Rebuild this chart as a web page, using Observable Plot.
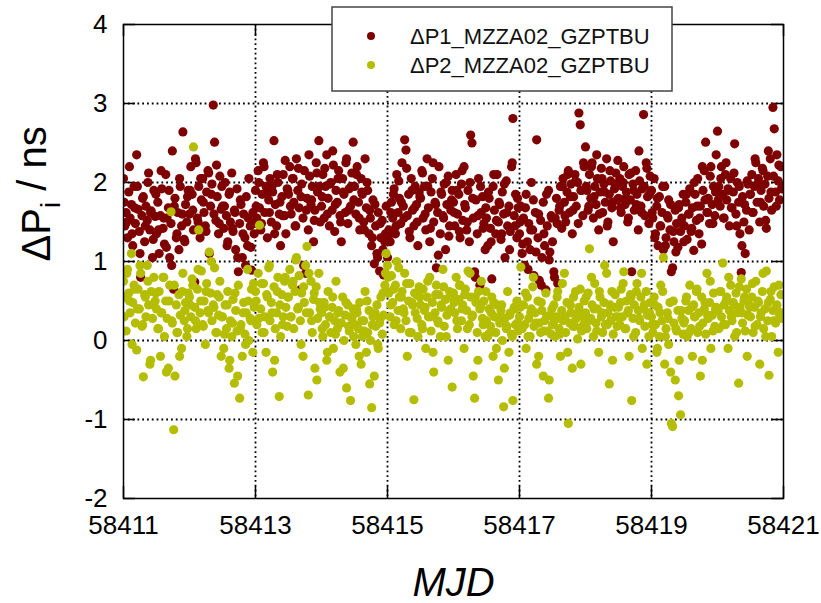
<!DOCTYPE html>
<html><head><meta charset="utf-8">
<script src="https://cdn.jsdelivr.net/npm/d3@7"></script>
<script src="https://cdn.jsdelivr.net/npm/@observablehq/plot@0.6"></script>
<style>body{margin:0;background:#fff}#chart{width:821px;height:603px}</style>
</head><body><div id="chart"></div>
<script>
const mjd = [
58411.00,58411.02,58411.04,58411.06,58411.08,58411.10,58411.12,58411.14,58411.16,58411.18,58411.20,58411.22,58411.24,58411.26,58411.28,58411.30,58411.32,58411.34,58411.36,58411.38,58411.40,58411.42,58411.44,58411.46,58411.48,
58411.50,58411.52,58411.54,58411.56,58411.58,58411.60,58411.62,58411.64,58411.66,58411.68,58411.70,58411.72,58411.74,58411.76,58411.78,58411.80,58411.82,58411.84,58411.86,58411.88,58411.90,58411.92,58411.94,58411.96,58411.98,
58412.00,58412.02,58412.04,58412.06,58412.08,58412.10,58412.12,58412.14,58412.16,58412.18,58412.20,58412.22,58412.24,58412.26,58412.28,58412.30,58412.32,58412.34,58412.36,58412.38,58412.40,58412.42,58412.44,58412.46,58412.48,
58412.50,58412.52,58412.54,58412.56,58412.58,58412.60,58412.62,58412.64,58412.66,58412.68,58412.70,58412.72,58412.74,58412.76,58412.78,58412.80,58412.82,58412.84,58412.86,58412.88,58412.90,58412.92,58412.94,58412.96,58412.98,
58413.00,58413.02,58413.04,58413.06,58413.08,58413.10,58413.12,58413.14,58413.16,58413.18,58413.20,58413.22,58413.24,58413.26,58413.28,58413.30,58413.32,58413.34,58413.36,58413.38,58413.40,58413.42,58413.44,58413.46,58413.48,
58413.50,58413.52,58413.54,58413.56,58413.58,58413.60,58413.62,58413.64,58413.66,58413.68,58413.70,58413.72,58413.74,58413.76,58413.78,58413.80,58413.82,58413.84,58413.86,58413.88,58413.90,58413.92,58413.94,58413.96,58413.98,
58414.00,58414.02,58414.04,58414.06,58414.08,58414.10,58414.12,58414.14,58414.16,58414.18,58414.20,58414.22,58414.24,58414.26,58414.28,58414.30,58414.32,58414.34,58414.36,58414.38,58414.40,58414.42,58414.44,58414.46,58414.48,
58414.50,58414.52,58414.54,58414.56,58414.58,58414.60,58414.62,58414.64,58414.66,58414.68,58414.70,58414.72,58414.74,58414.76,58414.78,58414.80,58414.82,58414.84,58414.86,58414.88,58414.90,58414.92,58414.94,58414.96,58414.98,
58415.00,58415.02,58415.04,58415.06,58415.08,58415.10,58415.12,58415.14,58415.16,58415.18,58415.20,58415.22,58415.24,58415.26,58415.28,58415.30,58415.32,58415.34,58415.36,58415.38,58415.40,58415.42,58415.44,58415.46,58415.48,
58415.50,58415.52,58415.54,58415.56,58415.58,58415.60,58415.62,58415.64,58415.66,58415.68,58415.70,58415.72,58415.74,58415.76,58415.78,58415.80,58415.82,58415.84,58415.86,58415.88,58415.90,58415.92,58415.94,58415.96,58415.98,
58416.00,58416.02,58416.04,58416.06,58416.08,58416.10,58416.12,58416.14,58416.16,58416.18,58416.20,58416.22,58416.24,58416.26,58416.28,58416.30,58416.32,58416.34,58416.36,58416.38,58416.40,58416.42,58416.44,58416.46,58416.48,
58416.50,58416.52,58416.54,58416.56,58416.58,58416.60,58416.62,58416.64,58416.66,58416.68,58416.70,58416.72,58416.74,58416.76,58416.78,58416.80,58416.82,58416.84,58416.86,58416.88,58416.90,58416.92,58416.94,58416.96,58416.98,
58417.00,58417.02,58417.04,58417.06,58417.08,58417.10,58417.12,58417.14,58417.16,58417.18,58417.20,58417.22,58417.24,58417.26,58417.28,58417.30,58417.32,58417.34,58417.36,58417.38,58417.40,58417.42,58417.44,58417.46,58417.48,
58417.50,58417.52,58417.54,58417.56,58417.58,58417.60,58417.62,58417.64,58417.66,58417.68,58417.70,58417.72,58417.74,58417.76,58417.78,58417.80,58417.82,58417.84,58417.86,58417.88,58417.90,58417.92,58417.94,58417.96,58417.98,
58418.00,58418.02,58418.04,58418.06,58418.08,58418.10,58418.12,58418.14,58418.16,58418.18,58418.20,58418.22,58418.24,58418.26,58418.28,58418.30,58418.32,58418.34,58418.36,58418.38,58418.40,58418.42,58418.44,58418.46,58418.48,
58418.50,58418.52,58418.54,58418.56,58418.58,58418.60,58418.62,58418.64,58418.66,58418.68,58418.70,58418.72,58418.74,58418.76,58418.78,58418.80,58418.82,58418.84,58418.86,58418.88,58418.90,58418.92,58418.94,58418.96,58418.98,
58419.00,58419.02,58419.04,58419.06,58419.08,58419.10,58419.12,58419.14,58419.16,58419.18,58419.20,58419.22,58419.24,58419.26,58419.28,58419.30,58419.32,58419.34,58419.36,58419.38,58419.40,58419.42,58419.44,58419.46,58419.48,
58419.50,58419.52,58419.54,58419.56,58419.58,58419.60,58419.62,58419.64,58419.66,58419.68,58419.70,58419.72,58419.74,58419.76,58419.78,58419.80,58419.82,58419.84,58419.86,58419.88,58419.90,58419.92,58419.94,58419.96,58419.98,
58420.00,58420.02,58420.04,58420.06,58420.08,58420.10,58420.12,58420.14,58420.16,58420.18,58420.20,58420.22,58420.24,58420.26,58420.28,58420.30,58420.32,58420.34,58420.36,58420.38,58420.40,58420.42,58420.44,58420.46,58420.48,
58420.50,58420.52,58420.54,58420.56,58420.58,58420.60,58420.62,58420.64,58420.66,58420.68,58420.70,58420.72,58420.74,58420.76,58420.78,58420.80,58420.82,58420.84,58420.86,58420.88,58420.90,58420.92,58420.94,58420.96,58420.98,
58411.01,58411.05,58411.09,58411.13,58411.17,58411.21,58411.25,58411.29,58411.33,58411.37,58411.41,58411.45,58411.49,58411.53,58411.57,58411.61,58411.65,58411.69,58411.73,58411.77,58411.81,58411.85,58411.89,58411.93,58411.97,
58412.01,58412.05,58412.09,58412.13,58412.17,58412.21,58412.25,58412.29,58412.33,58412.37,58412.41,58412.45,58412.49,58412.53,58412.57,58412.61,58412.65,58412.69,58412.73,58412.77,58412.81,58412.85,58412.89,58412.93,58412.97,
58413.01,58413.05,58413.09,58413.13,58413.17,58413.21,58413.25,58413.29,58413.33,58413.37,58413.41,58413.45,58413.49,58413.53,58413.57,58413.61,58413.65,58413.69,58413.73,58413.77,58413.81,58413.85,58413.89,58413.93,58413.97,
58414.01,58414.05,58414.09,58414.13,58414.17,58414.21,58414.25,58414.29,58414.33,58414.37,58414.41,58414.45,58414.49,58414.53,58414.57,58414.61,58414.65,58414.69,58414.73,58414.77,58414.81,58414.85,58414.89,58414.93,58414.97,
58415.01,58415.05,58415.09,58415.13,58415.17,58415.21,58415.25,58415.29,58415.33,58415.37,58415.41,58415.45,58415.49,58415.53,58415.57,58415.61,58415.65,58415.69,58415.73,58415.77,58415.81,58415.85,58415.89,58415.93,58415.97,
58416.01,58416.05,58416.09,58416.13,58416.17,58416.21,58416.25,58416.29,58416.33,58416.37,58416.41,58416.45,58416.49,58416.53,58416.57,58416.61,58416.65,58416.69,58416.73,58416.77,58416.81,58416.85,58416.89,58416.93,58416.97,
58417.01,58417.05,58417.09,58417.13,58417.17,58417.21,58417.25,58417.29,58417.33,58417.37,58417.41,58417.45,58417.49,58417.53,58417.57,58417.61,58417.65,58417.69,58417.73,58417.77,58417.81,58417.85,58417.89,58417.93,58417.97,
58418.01,58418.05,58418.09,58418.13,58418.17,58418.21,58418.25,58418.29,58418.33,58418.37,58418.41,58418.45,58418.49,58418.53,58418.57,58418.61,58418.65,58418.69,58418.73,58418.77,58418.81,58418.85,58418.89,58418.93,58418.97,
58419.01,58419.05,58419.09,58419.13,58419.17,58419.21,58419.25,58419.29,58419.33,58419.37,58419.41,58419.45,58419.49,58419.53,58419.57,58419.61,58419.65,58419.69,58419.73,58419.77,58419.81,58419.85,58419.89,58419.93,58419.97,
58420.01,58420.05,58420.09,58420.13,58420.17,58420.21,58420.25,58420.29,58420.33,58420.37,58420.41,58420.45,58420.49,58420.53,58420.57,58420.61,58420.65,58420.69,58420.73,58420.77,58420.81,58420.85,58420.89,58420.93,58420.97
];
const dP1 = [
2.05,1.45,1.62,1.30,1.88,1.55,1.72,1.20,1.95,1.48,2.35,1.66,1.38,0.80,1.58,1.82,1.25,1.70,1.52,2.12,1.40,1.64,1.05,1.90,1.57,
1.35,1.75,1.10,1.58,1.92,1.42,1.22,2.10,1.55,1.68,1.05,1.48,2.40,0.65,1.80,1.30,1.62,1.15,1.95,1.45,2.64,1.28,1.72,1.50,1.90,
1.60,2.20,1.85,1.40,0.74,2.25,1.55,1.95,1.30,1.78,2.05,1.62,1.45,1.88,2.15,1.10,1.70,1.98,2.98,2.51,1.52,1.82,1.35,2.08,1.66,
1.70,1.42,2.00,1.58,1.25,1.85,1.50,2.12,1.38,1.65,1.15,1.92,0.87,1.48,1.72,1.05,1.60,1.30,1.82,1.20,2.05,1.45,0.89,1.62,1.35,
1.90,1.55,2.15,1.68,1.40,1.85,2.25,1.62,1.95,1.30,1.78,2.05,1.50,1.88,2.53,1.72,1.45,2.00,1.60,1.20,1.82,2.10,1.58,1.35,1.92,
1.85,2.20,1.60,2.05,1.75,1.45,2.30,1.90,1.68,0.64,1.98,1.55,2.15,0.85,1.80,1.40,2.08,1.72,1.95,1.25,1.65,2.25,1.88,2.53,1.50,
1.70,2.10,1.55,1.95,2.35,1.80,1.45,2.00,1.65,2.22,1.38,1.90,1.75,2.15,1.58,1.25,2.05,1.85,1.62,2.30,1.48,1.92,1.70,2.12,2.51,
1.95,1.60,2.20,1.75,1.40,2.05,1.85,1.50,2.30,1.68,1.90,1.35,1.55,1.20,1.78,0.97,1.45,1.10,1.62,0.88,1.30,1.52,0.83,1.25,1.70,
1.05,1.40,1.25,1.75,1.55,1.92,1.35,2.10,1.62,1.80,1.48,2.25,1.70,2.54,2.41,1.58,1.85,1.30,2.05,1.65,1.45,1.95,1.72,1.20,1.88,
1.80,2.15,1.55,1.95,1.40,2.30,1.68,1.25,1.88,2.05,1.50,1.75,0.92,1.62,2.20,1.35,1.85,1.58,1.98,1.15,1.72,2.08,1.45,1.65,1.90,
1.75,1.45,2.10,1.60,1.85,1.30,1.98,1.52,2.20,1.68,1.40,1.90,1.25,2.60,2.50,1.55,0.87,1.78,1.35,2.05,0.70,1.62,1.82,1.48,1.15,
1.55,1.20,1.80,1.42,0.78,1.95,1.65,1.35,2.10,1.50,1.72,1.28,1.88,1.60,1.05,2.02,1.45,1.70,1.38,2.20,2.81,1.58,1.85,1.30,1.68,
1.35,1.70,1.10,1.55,0.95,1.85,1.25,1.48,1.15,2.00,1.40,0.82,1.62,2.54,1.30,0.76,1.52,1.05,1.75,1.20,0.64,1.45,1.90,1.12,1.58,
1.25,0.87,1.55,1.80,0.72,1.65,1.95,1.42,2.05,1.75,1.50,1.88,2.15,1.62,1.98,1.35,1.82,2.10,1.70,2.00,2.88,2.73,1.90,1.58,2.20,
2.45,1.90,1.65,2.10,1.80,2.25,1.55,1.95,1.72,2.05,1.40,1.88,2.18,1.62,1.98,1.75,2.30,1.50,1.85,2.02,1.68,1.25,1.92,2.12,1.78,
1.80,2.05,1.62,1.95,2.20,1.72,1.88,1.50,2.10,1.78,0.87,1.98,1.65,2.15,1.85,1.40,2.02,1.70,1.92,2.86,1.58,2.25,1.82,1.48,2.08,
1.90,1.55,2.05,1.35,1.70,1.20,1.82,1.45,1.62,1.15,1.95,1.30,1.58,1.78,1.40,0.87,0.92,1.25,1.65,1.48,1.18,1.72,1.38,1.55,1.85,
1.45,1.75,1.28,1.60,1.92,1.38,1.68,1.14,1.85,1.52,2.05,1.35,1.70,1.22,1.90,2.15,2.51,1.62,1.80,1.48,2.20,1.72,1.95,1.58,2.35,
2.65,1.95,1.70,2.20,1.85,1.55,2.10,1.78,1.92,1.45,2.05,1.68,1.88,2.49,1.60,2.00,1.75,1.35,0.86,1.82,1.50,1.10,1.65,1.98,1.40,
1.85,2.10,1.62,1.95,2.25,1.75,2.05,1.50,1.90,2.18,1.70,1.98,1.42,2.08,1.80,2.30,1.65,2.95,2.68,1.88,2.35,2.02,1.78,2.20,1.95,
1.75,1.50,2.20,1.35,1.68,1.95,1.10,1.80,1.45,2.00,1.62,1.28,1.85,1.40,2.15,1.55,1.18,1.90,0.95,1.70,1.35,2.05,1.60,1.25,1.82,
1.90,1.65,2.30,1.50,2.05,1.75,1.38,2.12,1.85,1.60,2.22,1.48,1.95,1.70,1.20,1.88,1.42,1.62,1.05,1.78,1.35,0.95,1.55,1.18,1.48,
1.70,2.00,1.48,2.20,1.85,1.62,1.95,1.35,2.10,1.75,1.58,2.28,1.90,1.70,2.05,1.45,2.18,1.82,0.95,1.65,2.35,1.78,1.52,2.12,1.95,
1.82,2.18,1.60,1.98,2.40,1.72,2.05,1.50,1.88,2.25,1.65,1.95,1.78,2.10,1.55,1.88,1.40,2.00,1.65,1.30,1.72,1.05,1.48,1.15,1.35,
1.30,1.62,1.85,1.45,2.02,1.75,1.55,2.18,1.38,1.90,1.68,1.50,1.82,2.12,1.60,1.95,1.42,2.25,1.72,1.08,1.88,1.55,2.00,1.32,1.78,
1.62,1.90,1.38,2.15,1.72,1.50,2.00,1.80,0.80,1.58,1.95,1.42,1.68,1.88,1.25,2.10,1.52,1.75,1.35,1.98,1.62,1.15,2.25,1.45,1.80,
1.50,1.22,1.68,0.90,1.40,1.78,1.12,1.60,0.70,1.35,1.85,1.02,1.55,0.80,1.48,1.70,1.95,1.58,2.10,1.82,1.65,2.02,1.48,1.90,2.25,
1.95,1.70,2.20,1.82,2.35,1.60,2.05,1.88,1.45,2.15,1.75,1.98,2.28,1.68,2.00,1.80,1.55,2.12,1.90,1.72,2.40,1.62,1.95,2.18,1.85,
1.62,1.30,1.80,1.45,1.95,1.20,1.55,1.72,1.38,1.12,1.68,1.50,1.25,1.85,1.60,1.42,2.00,1.70,1.55,2.20,1.78,1.62,2.08,1.48,1.88,
1.78,2.05,1.55,2.25,1.90,1.68,2.12,1.45,1.95,1.20,1.72,2.02,1.85,1.62,2.30,1.98,1.75,2.15,1.52,2.40,1.88,2.08,1.70,2.22,1.92
];
const dP2 = [
0.75,0.55,0.12,0.90,0.60,0.35,1.10,0.48,0.70,0.22,-0.12,0.65,0.40,0.85,0.18,-0.46,0.58,0.30,0.95,0.45,-0.30,0.62,0.28,0.80,0.50,
0.40,0.15,0.62,-0.20,0.35,0.80,0.05,0.50,0.28,-0.35,0.70,1.63,0.22,-1.13,-0.45,0.45,0.10,0.58,0.32,-0.10,0.85,0.25,0.48,0.05,0.60,
0.55,0.30,0.78,2.45,0.42,0.15,0.65,1.40,0.35,0.88,0.20,0.50,-0.05,0.72,0.38,1.12,0.60,0.25,0.45,0.92,0.10,0.58,0.32,0.75,-0.20,
0.30,-0.10,0.45,0.15,0.62,-0.35,0.25,0.05,0.52,-0.54,0.38,0.12,0.70,-0.73,0.20,-0.20,0.48,0.08,0.35,0.90,0.00,0.28,0.65,-0.15,0.42,
0.62,0.20,0.85,1.46,0.40,0.10,0.72,0.30,-0.15,0.55,0.92,0.25,0.48,-0.40,0.68,0.15,0.35,0.80,-0.71,0.05,0.58,0.30,0.75,0.42,0.18,
0.55,0.90,0.30,0.70,0.15,0.62,1.05,0.40,0.82,0.25,0.60,-0.20,0.48,0.95,1.19,-0.69,0.35,0.75,0.10,0.52,-0.35,0.68,0.28,0.85,0.40,
0.35,0.05,0.48,0.20,-0.25,0.62,0.30,0.10,0.42,-0.10,0.25,0.75,0.15,0.38,-0.40,0.22,0.55,0.00,0.32,-0.60,0.45,0.12,-0.76,0.28,0.40,
0.20,-0.05,0.35,0.15,0.48,-0.30,0.05,0.25,0.62,-0.15,0.10,0.38,0.00,-0.85,0.30,-0.45,0.18,0.45,-0.10,0.22,0.55,0.08,0.32,0.70,1.10,
0.95,0.60,0.30,0.82,0.48,0.20,0.70,1.00,0.38,0.55,0.15,0.62,0.40,0.85,0.25,-0.20,0.50,0.72,0.10,0.45,-0.75,0.35,0.58,0.05,0.68,
0.45,0.20,0.65,0.38,-0.10,0.55,0.30,0.80,0.12,0.48,-0.40,0.35,0.70,0.25,0.58,0.05,0.42,0.90,0.18,0.52,0.32,-0.25,0.62,0.40,-0.59,
0.60,0.35,0.80,0.15,0.52,0.70,0.25,0.45,-0.10,0.65,0.38,0.88,0.20,0.55,0.30,-0.45,-0.73,0.48,0.10,0.62,0.40,0.75,0.28,0.50,0.05,
0.25,0.05,0.40,0.18,0.55,-0.20,0.30,0.10,0.45,-0.50,0.22,0.38,0.00,-0.84,0.28,0.15,0.62,-0.15,0.35,0.08,-0.76,0.42,0.20,0.50,0.12,
0.30,0.93,0.15,0.45,0.20,-0.10,0.55,0.28,0.05,0.40,0.68,0.18,0.35,-0.30,0.50,0.22,0.10,0.38,-0.45,0.25,0.60,0.12,-0.73,0.32,0.08,
0.20,0.45,0.05,0.30,0.62,0.15,-0.20,0.38,0.25,0.85,0.10,0.48,-1.05,0.22,0.35,-0.35,0.55,0.18,0.28,0.02,0.42,0.65,0.12,0.30,0.50,
0.35,0.15,0.60,1.16,0.28,0.45,0.05,0.72,0.22,0.40,-0.15,0.55,0.30,0.10,0.48,0.20,0.85,0.35,-0.55,0.25,0.62,0.08,0.42,0.30,0.18,
0.42,0.20,0.65,0.30,0.87,0.15,0.50,0.35,-0.20,0.58,-0.76,0.28,0.45,0.10,0.72,0.38,0.25,0.55,-0.10,0.40,0.18,0.62,0.32,0.05,0.48,
0.30,0.10,0.55,0.20,-0.15,0.42,0.05,0.70,0.25,1.05,-0.30,0.15,0.35,-0.05,0.48,-1.05,-1.09,0.22,-0.50,0.12,0.38,-0.25,-0.94,0.28,0.08,
0.25,0.50,0.05,0.38,0.70,0.15,-0.20,0.45,0.30,0.62,0.10,0.35,-0.45,0.55,0.22,0.40,0.08,0.85,0.28,0.48,-0.10,0.32,0.60,0.18,0.42,
0.40,0.15,0.62,0.30,0.98,0.45,0.20,0.55,-0.10,0.38,0.70,0.25,0.48,0.05,0.60,0.35,-0.54,0.42,0.78,0.22,0.50,0.12,0.65,0.32,0.45,
0.30,0.55,0.10,0.42,0.75,0.20,0.48,-0.30,0.35,0.62,0.15,0.40,0.88,0.25,-0.44,0.52,0.05,0.38,0.68,0.22,0.45,-0.15,0.32,0.58,0.28,
0.30,0.85,0.50,-0.05,0.65,0.40,0.95,0.20,0.55,0.75,-0.25,0.45,0.60,0.15,0.35,0.80,-0.40,0.50,0.25,0.70,0.10,-0.20,0.62,0.38,0.15,
0.45,0.70,0.25,0.90,0.50,0.18,0.62,0.35,1.00,0.42,0.10,0.55,0.30,0.08,0.45,-0.25,0.22,0.60,-0.45,0.15,0.35,-0.05,0.50,0.25,0.72,
0.50,0.28,0.72,0.10,0.58,0.95,0.35,-0.25,0.62,0.45,0.20,0.80,0.55,0.30,0.75,1.02,0.42,-0.05,0.68,0.35,0.85,0.25,0.60,-0.50,0.48,
0.15,0.42,-0.15,0.30,0.55,0.08,0.35,0.22,-0.35,0.48,0.18,0.30,0.05,0.40,-0.20,0.25,0.12,0.50,-0.55,0.20,0.35,-0.05,0.28,0.60,0.85,
0.80,0.45,0.65,0.25,0.92,0.55,0.35,0.72,0.10,0.48,0.60,0.28,0.55,0.15,0.42,0.75,0.30,-0.15,0.58,0.22,0.45,0.68,0.05,0.38,0.55,
0.48,0.25,0.70,0.40,0.58,0.15,0.85,0.32,0.55,-0.25,0.42,0.20,0.62,0.08,0.35,0.48,-0.10,0.28,0.45,-0.35,0.18,0.32,0.05,0.40,0.22,
0.42,0.18,0.60,0.05,0.35,0.80,0.22,-0.20,0.48,0.12,0.30,-0.50,0.40,0.25,0.55,0.08,0.72,0.30,-0.15,0.45,0.18,0.62,0.35,-0.30,0.20,
0.55,0.25,0.80,0.40,0.12,0.62,0.35,0.95,0.20,0.45,-0.25,0.58,0.30,0.48,0.72,0.15,0.38,0.55,0.05,0.62,0.28,0.85,0.45,-0.30,0.35,
0.20,0.45,-0.10,0.35,0.62,0.05,0.28,-0.40,0.50,0.15,-0.70,0.38,0.22,0.55,0.10,0.42,0.30,0.65,0.18,-0.25,0.48,0.32,0.75,0.12,0.40,
0.38,0.62,0.20,0.50,0.80,0.30,0.45,0.10,0.68,0.35,0.55,-0.20,0.42,0.72,0.18,0.50,0.30,0.85,0.05,0.48,0.62,0.25,0.40,0.70,0.35
];
const seriesNames = ["ΔP1_MZZA02_GZPTBU", "ΔP2_MZZA02_GZPTBU"];
const seriesColors = ["#7f0000", "#b4bd00"];
const xTicks = [58411, 58413, 58415, 58417, 58419, 58421];
const yTicks = [-2, -1, 0, 1, 2, 3, 4];
const xTitle = "MJD";
const yTitleParts = ["ΔP", "i", " / ns"];

const W = 821, H = 603, mL = 123, mR = 38, mT = 24, mB = 105;
const pw = W - mL - mR, ph = H - mT - mB, tk = 12;
const font = "'Liberation Sans', Arial, Helvetica, sans-serif";
const series = [dP1, dP2].map((vals, s) => mjd.map((t, i) => ({t, v: vals[i], s})));
const dotted = {stroke: "#000", strokeOpacity: 1, strokeWidth: 1.8, strokeDasharray: "1.8,3"};
const tickStyle = {stroke: "#000", strokeWidth: 1.5};

const chart = Plot.plot({
  width: W, height: H,
  marginLeft: mL, marginRight: mR, marginTop: mT, marginBottom: mB,
  style: {fontFamily: font, background: "#fff", color: "#000"},
  x: {domain: [xTicks[0], xTicks[xTicks.length - 1]]},
  y: {domain: [yTicks[0], yTicks[yTicks.length - 1]]},
  marks: [
    Plot.gridX(xTicks.slice(1, -1), dotted),
    Plot.gridY(yTicks.slice(1, -1), dotted),
    Plot.ruleX(xTicks, {x: d => d, insetTop: ph - tk, ...tickStyle}),
    Plot.ruleX(xTicks, {x: d => d, insetBottom: ph - tk, ...tickStyle}),
    Plot.ruleY(yTicks, {y: d => d, insetRight: pw - tk, ...tickStyle}),
    Plot.ruleY(yTicks, {y: d => d, insetLeft: pw - tk, ...tickStyle}),
    Plot.dot(series[0], {x: "t", y: "v", r: 4.6, fill: seriesColors[0], stroke: null, clip: true}),
    Plot.dot(series[1], {x: "t", y: "v", r: 4.6, fill: seriesColors[1], stroke: null, clip: true}),
    Plot.frame({stroke: "#000", strokeWidth: 1.5}),
    Plot.axisX(xTicks, {tickSize: 0, tickPadding: 17, fontSize: 26, label: null, tickFormat: d => String(d)}),
    Plot.axisY(yTicks, {tickSize: 0, tickPadding: 16, fontSize: 26, label: null, tickFormat: d => String(d)}),
    Plot.text([xTitle], {text: d => d, frameAnchor: "bottom", lineAnchor: "middle", dy: 85, fontSize: 40, fontStyle: "italic"}),
    Plot.text([yTitleParts.join("")], {text: d => d, frameAnchor: "left", lineAnchor: "middle", dx: -86, rotate: -90, fontSize: 40})
  ]
});

// y title with subscript
const svg = d3.select(chart);
svg.selectAll("text").filter(function() { return this.textContent === yTitleParts.join(""); })
  .each(function() {
    const t = d3.select(this);
    t.text(null);
    t.append("tspan").text(yTitleParts[0]);
    t.append("tspan").attr("dy", "0.35em").attr("font-size", "28").text(yTitleParts[1]);
    t.append("tspan").attr("dy", "-0.35em").text(yTitleParts[2]);
  });

// legend
const lg = svg.append("g").attr("font-family", font).attr("text-anchor", "start");
lg.append("rect").attr("x", 332).attr("y", 7).attr("width", 340).attr("height", 84)
  .attr("fill", "#fff").attr("stroke", "#444").attr("stroke-width", 1.5);
seriesNames.forEach((name, i) => {
  const y = 36 + i * 29;
  lg.append("circle").attr("cx", 371).attr("cy", y).attr("r", 4).attr("fill", seriesColors[i]);
  lg.append("text").attr("x", 410).attr("y", y).attr("dy", "0.35em").attr("font-size", 22)
    .attr("text-anchor", "start").attr("fill", "#111").text(name);
});

document.getElementById("chart").appendChild(chart);
</script>
</body></html>
